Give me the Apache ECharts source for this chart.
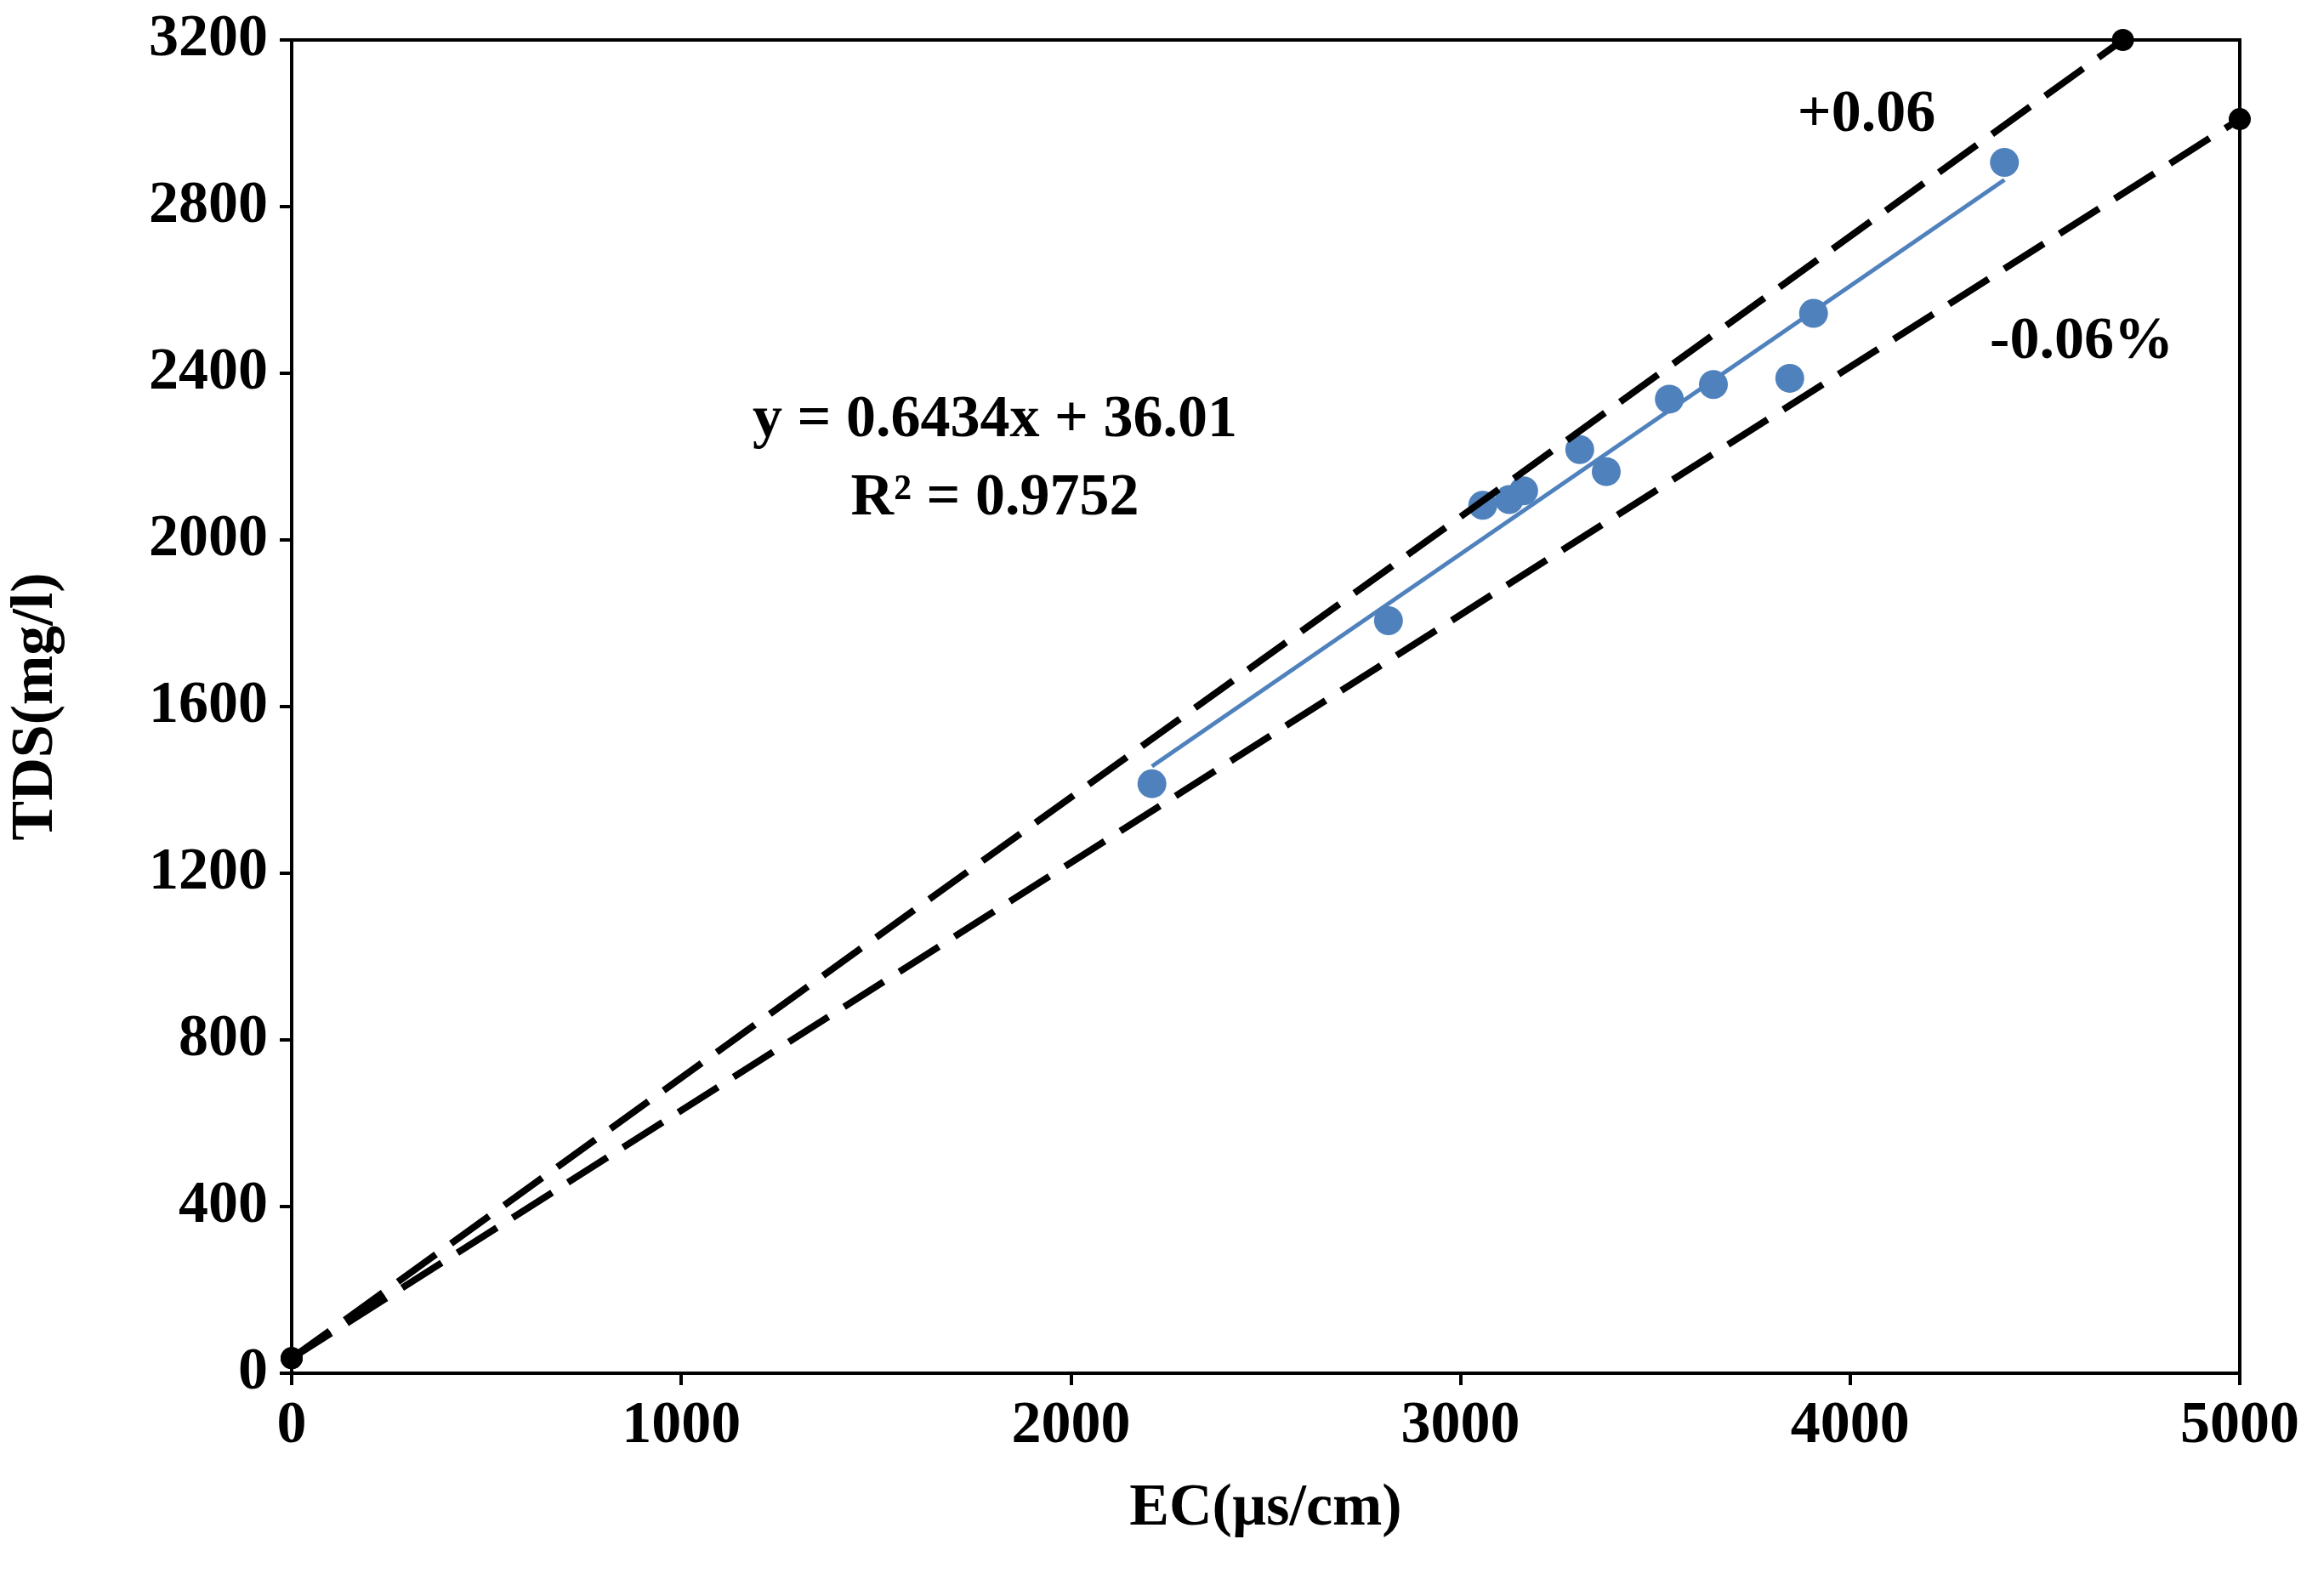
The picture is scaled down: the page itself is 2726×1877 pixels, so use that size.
<!DOCTYPE html>
<html>
<head>
<meta charset="UTF-8">
<title>EC vs TDS</title>
<script src="https://cdn.jsdelivr.net/npm/echarts@6/dist/echarts.min.js"></script>
<style>html,body{margin:0;padding:0;background:#fff;}#chart{width:2726px;height:1877px;}</style>
</head>
<body>
<div id="chart"></div>
<script type="text/javascript">
// measured samples
var ecValues = [2208, 2815, 3057, 3125, 3162, 3306, 3374, 3536, 3649, 3845, 3906, 4396];
var tdsValues = [1415, 1806, 2083, 2097, 2118, 2217, 2164, 2338, 2373, 2388, 2544, 2906];
// trend line y = 0.6434x + 36.01 drawn between the extreme EC samples
var trendX = [2208, 4396];
var trendY = [1456.6, 2864.4];
// limit lines
var upperLine = [[0, 36], [4700, 3200]];
var lowerLine = [[0, 36], [5000, 3010]];

var font = 'Liberation Serif';
var points = [];
for (var i = 0; i < ecValues.length; i++) points.push([ecValues[i], tdsValues[i]]);

var myChart = echarts.init(document.getElementById('chart'));
var option = {
	backgroundColor: '#fff',
	animation: false,
	grid: { left: 330, right: 92, top: 47, bottom: 262, show: true, borderColor: '#000', borderWidth: 4 },
	xAxis: {
		type: 'value', min: 0, max: 5000, interval: 1000,
		name: 'EC(µs/cm)', nameLocation: 'middle', nameGap: 125,
		nameTextStyle: { fontFamily: font, fontWeight: 'bold', fontSize: 70, color: '#000' },
		axisLine: { lineStyle: { color: '#000', width: 4 } },
		axisTick: { show: true, length: 14, lineStyle: { color: '#000', width: 4 } },
		axisLabel: { fontFamily: font, fontWeight: 'bold', fontSize: 70, color: '#000', margin: 28, formatter: function (v) { return String(v); } },
		splitLine: { show: false }
	},
	yAxis: {
		type: 'value', min: 0, max: 3200, interval: 400,
		name: 'TDS(mg/l)', nameLocation: 'middle', nameGap: 265, nameRotate: 90,
		nameTextStyle: { fontFamily: font, fontWeight: 'bold', fontSize: 70, color: '#000' },
		axisLine: { lineStyle: { color: '#000', width: 4 } },
		axisTick: { show: true, length: 14, lineStyle: { color: '#000', width: 4 } },
		axisLabel: { fontFamily: font, fontWeight: 'bold', fontSize: 70, color: '#000', margin: 28, formatter: function (v) { return String(v); } },
		splitLine: { show: false }
	},
	series: [
		{
			type: 'line', data: upperLine, symbol: 'circle', symbolSize: 26,
			itemStyle: { color: '#000' },
			lineStyle: { color: '#000', width: 8, type: [55, 22] }
		},
		{
			type: 'line', data: lowerLine, symbol: 'circle', symbolSize: 26,
			itemStyle: { color: '#000' },
			lineStyle: { color: '#000', width: 8, type: [55, 22] }
		},
		{
			type: 'line', data: [[trendX[0], trendY[0]], [trendX[1], trendY[1]]],
			symbol: 'none', lineStyle: { color: '#4f81bd', width: 5 }
		},
		{
			type: 'scatter', data: points, symbolSize: 34,
			itemStyle: { color: '#4f81bd', opacity: 1 }
		}
	],
	graphic: [
		{ type: 'text', x: 1170, y: 541, style: { text: 'y = 0.6434x + 36.01\nR² = 0.9752', align: 'center', verticalAlign: 'middle', lineHeight: 92, font: 'bold 70px "Liberation Serif"', fill: '#000' } },
		{ type: 'text', x: 2195, y: 136, style: { text: '+0.06', align: 'center', verticalAlign: 'middle', font: 'bold 70px "Liberation Serif"', fill: '#000' } },
		{ type: 'text', x: 2448, y: 403, style: { text: '-0.06%', align: 'center', verticalAlign: 'middle', font: 'bold 70px "Liberation Serif"', fill: '#000' } }
	]
};
myChart.setOption(option);
</script>
</body>
</html>
